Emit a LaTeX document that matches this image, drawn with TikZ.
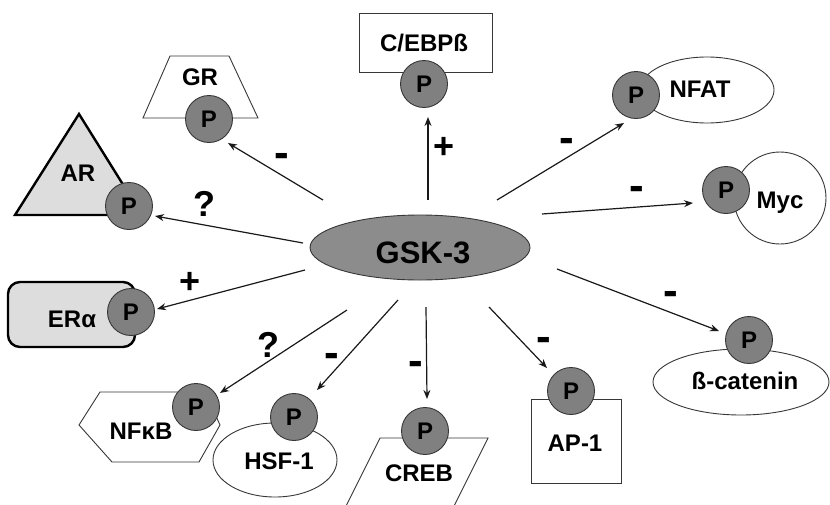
\documentclass[tikz,border=0pt]{standalone}
\usepackage{fontspec}
\setmainfont{Liberation Sans}
\usetikzlibrary{arrows.meta,shapes.geometric}
\definecolor{pgray}{RGB}{128,128,128}
\definecolor{gskgray}{RGB}{140,140,140}
\definecolor{lgray}{RGB}{221,221,221}
\definecolor{edgec}{RGB}{55,55,55}
\begin{document}
\begin{tikzpicture}[x=1pt,y=-1pt,
  shp/.style={draw=edgec, line width=0.9pt, fill=white, inner sep=0pt},
  thk/.style={draw=black, line width=2.4pt, fill=lgray, line join=miter},
  pnode/.style={circle, draw=edgec, line width=0.9pt, fill=pgray, minimum size=47pt, inner sep=0pt,
     font=\fontsize{24}{24}\selectfont\bfseries, text height=17pt, text depth=0pt},
  lbl/.style={font=\fontsize{24}{24}\selectfont\bfseries, inner sep=0pt, text height=17pt, text depth=0pt},
  sgn/.style={font=\fontsize{36}{36}\selectfont\bfseries, inner sep=0pt},
  mns/.style={font=\fontsize{44}{44}\selectfont\bfseries, inner sep=0pt},
  conn/.style={-{Stealth[length=9pt,width=7pt]}, line width=1.2pt, draw=black!90}]
\useasboundingbox (0,0) rectangle (830,504);
\clip (0,0) rectangle (830,504);

% centre
\node[ellipse, draw=edgec, line width=0.9pt, fill=gskgray, minimum width=220pt, minimum height=65pt, inner sep=0pt] (gsk) at (420,247.5) {};
\node[font=\fontsize{31}{31}\selectfont\bfseries, inner sep=0pt, text height=22.5pt, text depth=0pt] (gsktxt) at (423,252) {GSK-3};

% target shapes
\draw[shp] (170,56) -- (229,56) -- (258,118) -- (143,118) -- cycle;
\draw[thk] (79,114) -- (142,215) -- (15,215) -- cycle;
\draw[thk, rounded corners=12pt] (8,282) rectangle (135,347);
\node[shp, rectangle, minimum width=133pt, minimum height=59pt] (cebpbox) at (425.5,42.5) {};
\node[shp, ellipse, minimum width=134pt, minimum height=66pt] (nfatbox) at (707,90) {};
\node[shp, circle, minimum size=92pt] (mycbox) at (780,198) {};
\draw[shp] (79,425) -- (100,392) -- (205,392) -- (220,425) -- (199,462) -- (112,462) -- cycle;
\node[shp, ellipse, minimum width=124pt, minimum height=74pt] (hsfbox) at (275,460) {};
\draw[shp] (380,438) -- (488,438) -- (452,510) -- (344,510) -- cycle;
\node[shp, rectangle, minimum width=90pt, minimum height=84pt] (apbox) at (576,441) {};
\node[shp, ellipse, minimum width=176pt, minimum height=66pt] (bcatbox) at (741,382) {};

% labels
\node[lbl] (tGR) at (200,77) {GR};
\node[lbl] (tAR) at (78,173) {AR};
\node[lbl] (tCEBP) at (424,43) {C/EBPß};
\node[lbl] (tNFAT) at (700,89) {NFAT};
\node[lbl] (tMyc) at (780,200) {Myc};
\node[lbl] (tER) at (72,319) {ERα};
\node[lbl] (tNFKB) at (141,431) {NFκB};
\node[lbl] (tHSF) at (279,461) {HSF-1};
\node[lbl] (tCREB) at (419,473) {CREB};
\node[lbl] (tAP) at (575,443) {AP-1};
\node[lbl] (tB) at (745,381) {ß-catenin};

% phospho circles
\node[pnode] (pGR) at (209,119) {P};
\node[pnode] (pAR) at (129,206) {P};
\node[pnode] (pC) at (424,84) {P};
\node[pnode] (pNFAT) at (636,95) {P};
\node[pnode] (pMyc) at (726,190) {P};
\node[pnode] (pER) at (131,312) {P};
\node[pnode] (pNFKB) at (196,407) {P};
\node[pnode] (pHSF) at (294,417) {P};
\node[pnode] (pCREB) at (425,431) {P};
\node[pnode] (pAP) at (571,391) {P};
\node[pnode] (pB) at (749,340) {P};

% connector ends
\coordinate (sGR) at (323,200);   \coordinate (eGR) at (228,143);
\coordinate (sAR) at (303,243);   \coordinate (eAR) at (155,216);
\coordinate (sC) at (428,200);    \coordinate (eC) at (428,117);
\coordinate (sNFAT) at (497,200); \coordinate (eNFAT) at (624,123);
\coordinate (sMyc) at (542,214);  \coordinate (eMyc) at (693,203);
\coordinate (sER) at (305,270);   \coordinate (eER) at (157,309);
\coordinate (sNFKB) at (347,310); \coordinate (eNFKB) at (220,393);
\coordinate (sHSF) at (398,300);  \coordinate (eHSF) at (317,390);
\coordinate (sCREB) at (426,307); \coordinate (eCREB) at (427,399);
\coordinate (sAP) at (489,307);   \coordinate (eAP) at (547,368);
\coordinate (sB) at (557,269);    \coordinate (eB) at (719,331);

\draw[conn] (sGR) -- (eGR);
\draw[conn] (sAR) -- (eAR);
\draw[conn] (sC) -- (eC);
\draw[conn] (sNFAT) -- (eNFAT);
\draw[conn] (sMyc) -- (eMyc);
\draw[conn] (sER) -- (eER);
\draw[conn] (sNFKB) -- (eNFKB);
\draw[conn] (sHSF) -- (eHSF);
\draw[conn] (sCREB) -- (eCREB);
\draw[conn] (sAP) -- (eAP);
\draw[conn] (sB) -- (eB);

% signs
\node[mns] (gGR) at (282,160) {-};
\node[sgn] (gAR) at (204,204) {?};
\node[sgn] (gC) at (444,148) {+};
\node[mns] (gNFAT) at (567,145) {-};
\node[mns] (gMyc) at (637,193) {-};
\node[sgn] (gER) at (190,283) {+};
\node[sgn] (gNFKB) at (268,345) {?};
\node[mns] (gHSF) at (332,360) {-};
\node[mns] (gCREB) at (416,368) {-};
\node[mns] (gAP) at (544,344) {-};
\node[mns] (gB) at (671,298) {-};
\end{tikzpicture}
\end{document}
